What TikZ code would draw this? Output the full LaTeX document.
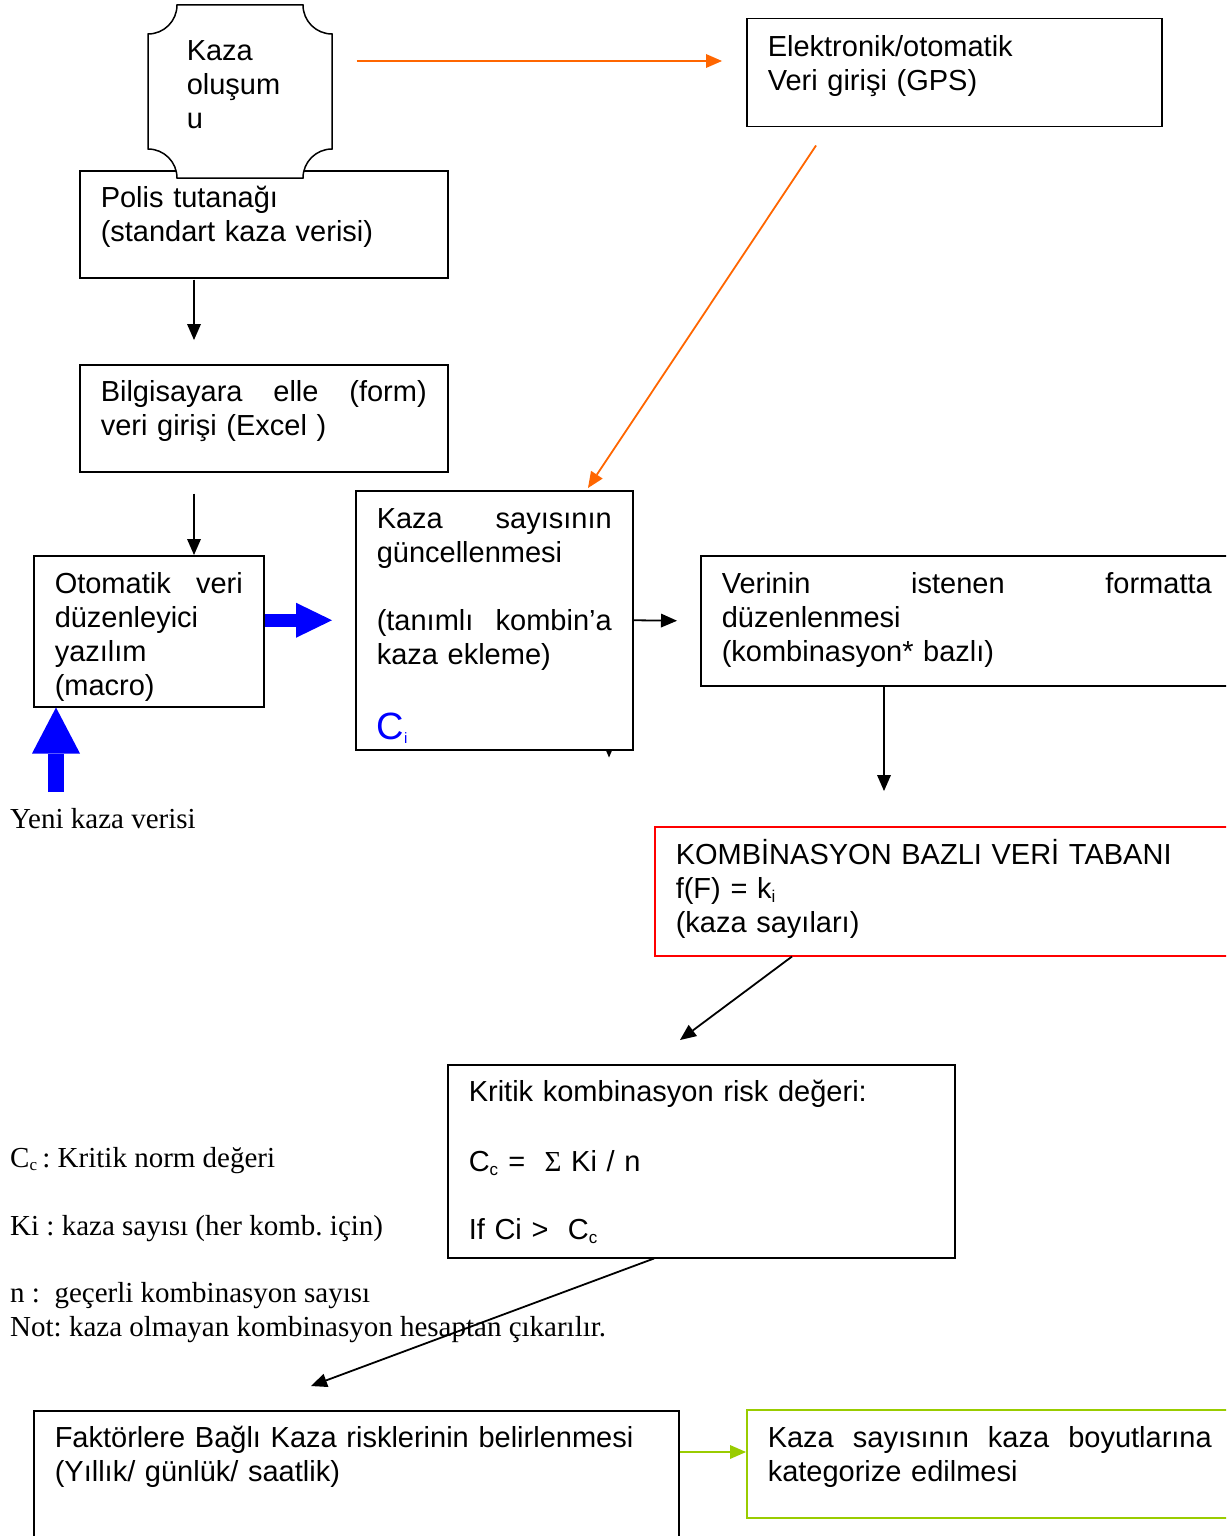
\documentclass[tikz,border=0pt]{standalone}
\usepackage{fontspec}
\setmainfont{Liberation Serif}
\newfontfamily\arial{Liberation Sans}
\usetikzlibrary{arrows.meta, calc}
\definecolor{flowOrange}{RGB}{255,102,0}
\definecolor{flowGreen}{RGB}{153,204,0}
\definecolor{flowBlue}{RGB}{0,0,255}
\newcommand{\lowidx}[1]{\textsubscript{\fontsize{17}{17}\selectfont #1}}
\frenchspacing
\tikzset{
    box/.style={draw, fill=white, line width=1.5pt, anchor=north west, align=left,
        inner xsep=21pt, inner ysep=0pt, font=\arial\fontsize{29}{34}\selectfont},
    note/.style={anchor=base west, inner sep=0pt, font=\fontsize{29}{34}\selectfont},
    arr/.style={line width=1.8pt, -{Triangle[length=16pt, width=14pt, line width=0pt]}},
    fat arr/.style={flowBlue, line width=#1}
}

\begin{document}
\begin{tikzpicture}[x=1pt, y=-1pt]
    \useasboundingbox (0,0) rectangle (1226,1536);
    \clip (0,0) rectangle (1226,1536);
    \fill[white] (0,0) rectangle (1226,1536);

    \node[box] (polis)  at (79,170)  [text width=326pt, text height=37pt, text depth=70pt]
        {Polis tutanağı\\(standart kaza verisi)};

    % plaque over the police box
    \draw[line width=1.5pt, fill=white] (177,5) -- (303,5) arc[start angle=180, end angle=270, radius=29pt]
        -- (332,149) arc[start angle=90, end angle=180, radius=29pt]
        -- (177,178) arc[start angle=0, end angle=90, radius=29pt]
        -- (148,34) arc[start angle=270, end angle=360, radius=29pt] -- cycle;
    \node[box, draw=none, fill=none] (olusum) at (148,5) [text width=108pt, inner xsep=38pt, text height=55pt, text depth=118pt]
        {Kaza\\oluşum\\u};

    \node[box] (elek)   at (746,18)  [text width=373pt, text height=38pt, text depth=70pt]
        {Elektronik/otomatik\\Veri girişi (GPS)};
    \node[box] (bilgi)  at (79,364)  [text width=326pt, text height=37pt, text depth=70pt]
        {Bilgisayara\hfill elle\hfill (form)\\veri girişi (Excel )};
    \node[box] (oto)    at (33,555)  [text width=188pt, text height=38pt, text depth=113pt]
        {Otomatik\hfill veri\\düzenleyici\\yazılım\\(macro)};
    \node[box] (guncel) at (355,490) [text width=235pt, text height=38pt, text depth=221pt]
        {Kaza\hfill sayısının\\güncellenmesi\\[34pt](tanımlı\hfill kombin’a\\kaza ekleme)\\[41pt]%
         {\color{flowBlue}\fontsize{38}{40}\selectfont C\textsubscript{\fontsize{15}{15}\selectfont i}}};
    \node[box] (verinin) at (700,555) [text width=490pt, text height=38pt, text depth=92pt]
        {Verinin\hfill istenen\hfill formatta\\düzenlenmesi\\(kombinasyon* bazlı)};
    \node[box, draw=red] (kombin) at (654,826) [text width=544pt, text height=38pt, text depth=91pt]
        {KOMBİNASYON BAZLI VERİ TABANI\\f(F) = k\lowidx{i}\\(kaza sayıları)};
    \node[box] (kritik) at (447,1064) [text width=465pt, text height=37pt, text depth=156pt]
        {Kritik kombinasyon risk değeri:\\[36pt]C\lowidx{c} =\ \ {\rmfamily Σ} Ki / n\\[34pt]If Ci >\ \ C\lowidx{c}};
    \node[box] (faktor) at (33,1410) [text width=603pt, text height=37pt, text depth=130pt]
        {Faktörlere Bağlı Kaza risklerinin belirlenmesi\\(Yıllık/ günlük/ saatlik)};
    \node[box, draw=flowGreen] (boyut) at (746,1409) [text width=444pt, text height=38pt, text depth=70pt]
        {Kaza\hfill sayısının\hfill kaza\hfill boyutlarına\\kategorize edilmesi};

    % free notes
    \node[note] (yeni) at (10,828)  {Yeni kaza verisi};
    \node[note] (cc)   at (10,1167) {C\lowidx{c}\,: Kritik norm değeri};
    \node[note] (ki)   at (10,1235) {Ki : kaza sayısı (her komb. için)};
    \node[note] (nn)   at (10,1302) {n :\ \ geçerli kombinasyon sayısı};
    \node[note] (nott) at (10,1336) {Not: kaza olmayan kombinasyon hesaptan çıkarılır.};

    % connectors
    \draw[arr, flowOrange] ($(olusum.north east)+(23,56)$) -- ($(elek.north west)+(-24,43)$);
    \draw[arr, flowOrange] ($(elek.south west)+(70,18)$) -- ($(guncel.north west)+(233,-2)$);
    \draw[arr] ($(polis.south west)+(115,1)$) -- ($(bilgi.north west)+(115,-24)$);
    \draw[arr] ($(bilgi.south west)+(115,21)$) coordinate (b1) -- (b1 |- oto.north);
    \draw[fat arr=13pt, -{Triangle[length=36pt, width=35pt, line width=0pt]}]
        (oto.east |- guncel.west) -- ([xshift=-23pt]guncel.west);
    \coordinate (newdata) at (56,792);
    \draw[fat arr=16pt, -{Triangle[length=46pt, width=48pt, line width=0pt]}]
        (newdata) -- (newdata |- oto.south);
    \draw[arr] (guncel.east) -- ([xshift=-23pt]verinin.west);
    \draw[line width=1pt, -{Triangle[length=7pt, width=6pt, line width=0pt]}]
        ($(guncel.south west)+(254,0)$) -- ($(guncel.south west)+(254,7)$);
    \draw[arr] ($(verinin.south west)+(184,0)$) coordinate (v1) -- ($(v1 |- kombin.north)+(0,-35)$);
    \draw[arr] ($(kombin.south west)+(138,0)$) -- ($(kritik.north west)+(233,-24)$);
    \draw[arr] ($(kritik.south west)+(207,0)$) -- ($(faktor.north west)+(278,-24)$);
    \draw[arr, flowGreen] ($(faktor.north east)+(0,42)$) coordinate (f1) -- (f1 -| boyut.west);
\end{tikzpicture}
\end{document}
